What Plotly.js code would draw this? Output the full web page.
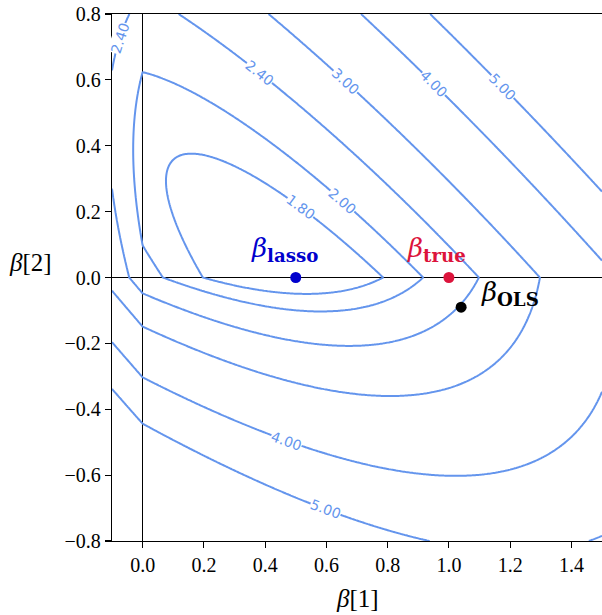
<!DOCTYPE html>
<html>
<head>
<meta charset="utf-8">
<script src="https://cdn.plot.ly/plotly-3.0.1.min.js"></script>
<style>html,body{margin:0;padding:0;background:#fff;}</style>
</head>
<body>
<div id="chart" style="width:602px;height:615px"></div>
<script>
// ---- values ----
const levels = [1.80, 2.00, 2.40, 3.00, 4.00, 5.00];          // contour levels
const betaOLS = [1.04, -0.09];                                  // least-squares estimate
const gram = [[2.13, 1.88], [1.88, 2.12]];                      // quadratic (Gram) matrix of the loss
const lambda = 2.0;                                             // L1 penalty weight
const baseLoss = 0.16;                                          // loss value at beta_OLS (without penalty)
const pointNames = ['lasso', 'true', 'OLS'];
const pointX = [0.50, 1.00, 1.04];
const pointY = [0.00, 0.00, -0.09];
const pointColors = ['#0000CD', '#DC143C', '#000000'];
const labelLevels = [1.80, 2.00, 2.40, 2.40, 3.00, 4.00, 4.00, 5.00, 5.00];
const labelX = [0.519, 0.655, 0.383, -0.074, 0.666, 0.955, 0.470, 1.183, 0.601];
const labelY = [0.217, 0.237, 0.622, 0.728, 0.602, 0.591, -0.496, 0.587, -0.694];
const xTicks = [0.0, 0.2, 0.4, 0.6, 0.8, 1.0, 1.2, 1.4];
const yTicks = [-0.8, -0.6, -0.4, -0.2, 0.0, 0.2, 0.4, 0.6, 0.8];

// ---- lasso objective on a grid ----
function loss(x, y) {
  const dx = x - betaOLS[0], dy = y - betaOLS[1];
  return gram[0][0]*dx*dx + 2*gram[0][1]*dx*dy + gram[1][1]*dy*dy + baseLoss + lambda*(Math.abs(x) + Math.abs(y));
}
const xs = [], ys = [];
for (let i = 0; i <= 400; i++) xs.push((i - 25) / 250);
for (let j = 0; j <= 400; j++) ys.push((j - 200) / 250);
const z = ys.map(y => xs.map(x => loss(x, y)));

const lineColor = '#6495ED';
const traces = levels.map(L => ({
  type: 'contour', x: xs, y: ys, z: z, autocontour: false,
  contours: {start: L, end: L, size: 1, coloring: 'lines', showlabels: false},
  line: {width: 2, smoothing: 0},
  colorscale: [[0, lineColor], [1, lineColor]], showscale: false, hoverinfo: 'skip'
}));
traces.push({
  type: 'scatter', mode: 'markers', x: pointX, y: pointY,
  marker: {size: 11, color: pointColors}, hoverinfo: 'skip', cliponaxis: false
});

// ---- plot geometry ----
const W = 602, H = 615, M = {l: 112, r: 0, t: 14, b: 74};
const xr = [-0.1, 1.5], yr = [-0.8, 0.8];
const plotW = W - M.l - M.r, plotH = H - M.t - M.b;
const sx = plotW / (xr[1] - xr[0]);
const sy = plotH / (yr[1] - yr[0]);

function grad(x, y) {
  const e = 1e-5;
  return [(loss(x + e, y) - loss(x - e, y)) / (2*e), (loss(x, y + e) - loss(x, y - e)) / (2*e)];
}
const annotations = [];
labelLevels.forEach((L, k) => {
  let x = labelX[k], y = labelY[k];
  for (let it = 0; it < 4; it++) {
    const g = grad(x, y), d = (loss(x, y) - L) / (g[0]*g[0] + g[1]*g[1]);
    x -= d*g[0]; y -= d*g[1];
  }
  const g = grad(x, y);
  let ang = Math.atan2(g[0]*sy, g[1]*sx) * 180 / Math.PI;
  if (ang > 90) ang -= 180;
  if (ang <= -90) ang += 180;
  annotations.push({
    x: x, y: y, xref: 'x', yref: 'y', text: L.toFixed(2), textangle: ang, showarrow: false,
    font: {family: 'DejaVu Sans', size: 14, color: lineColor}, bgcolor: 'white', borderpad: 0
  });
});

// point labels
const pointLabelDX = [-0.038, -0.042, 0.16];
const pointLabelDY = [0.085, 0.085, 0.04];
pointNames.forEach((n, k) => {
  annotations.push({
    x: pointX[k] + pointLabelDX[k], y: pointY[k] + pointLabelDY[k], xref: 'x', yref: 'y',
    text: '<i>β</i><sub><b>' + n + '</b></sub>', showarrow: false,
    font: {family: 'DejaVu Serif', size: 26, color: pointColors[k]}
  });
});

// axis titles (y title is horizontal in the reference)
annotations.push({
  xref: 'paper', yref: 'paper', x: 0.5, y: ((H - M.b) - 598) / plotH,
  text: '<i>β</i>[1]', showarrow: false, xanchor: 'center', yanchor: 'middle',
  font: {family: 'Liberation Serif', size: 25, color: '#000'}
});
annotations.push({
  xref: 'paper', yref: 'paper', x: (30 - M.l) / plotW, y: ((H - M.b) - 262) / plotH,
  text: '<i>β</i>[2]', showarrow: false, xanchor: 'center', yanchor: 'middle',
  font: {family: 'Liberation Serif', size: 25, color: '#000'}
});

const axisCommon = {
  showgrid: false, zeroline: true, zerolinecolor: '#000', zerolinewidth: 1.3,
  showline: true, linecolor: '#000', linewidth: 1.3,
  ticks: 'outside', ticklen: 6, tickwidth: 1.1, tickcolor: '#000',
  tickformat: '.1f', tickfont: {family: 'Liberation Serif', size: 20, color: '#000'}
};
const layout = {
  width: W, height: H, margin: M, paper_bgcolor: '#fff', plot_bgcolor: '#fff', showlegend: false,
  xaxis: Object.assign({}, axisCommon, {range: xr, tickmode: 'array', tickvals: xTicks, mirror: true}),
  yaxis: Object.assign({}, axisCommon, {range: yr, tickmode: 'array', tickvals: yTicks, mirror: false}),
  annotations: annotations
};
Plotly.newPlot('chart', traces, layout, {displayModeBar: false, staticPlot: true});
</script>
</body>
</html>
